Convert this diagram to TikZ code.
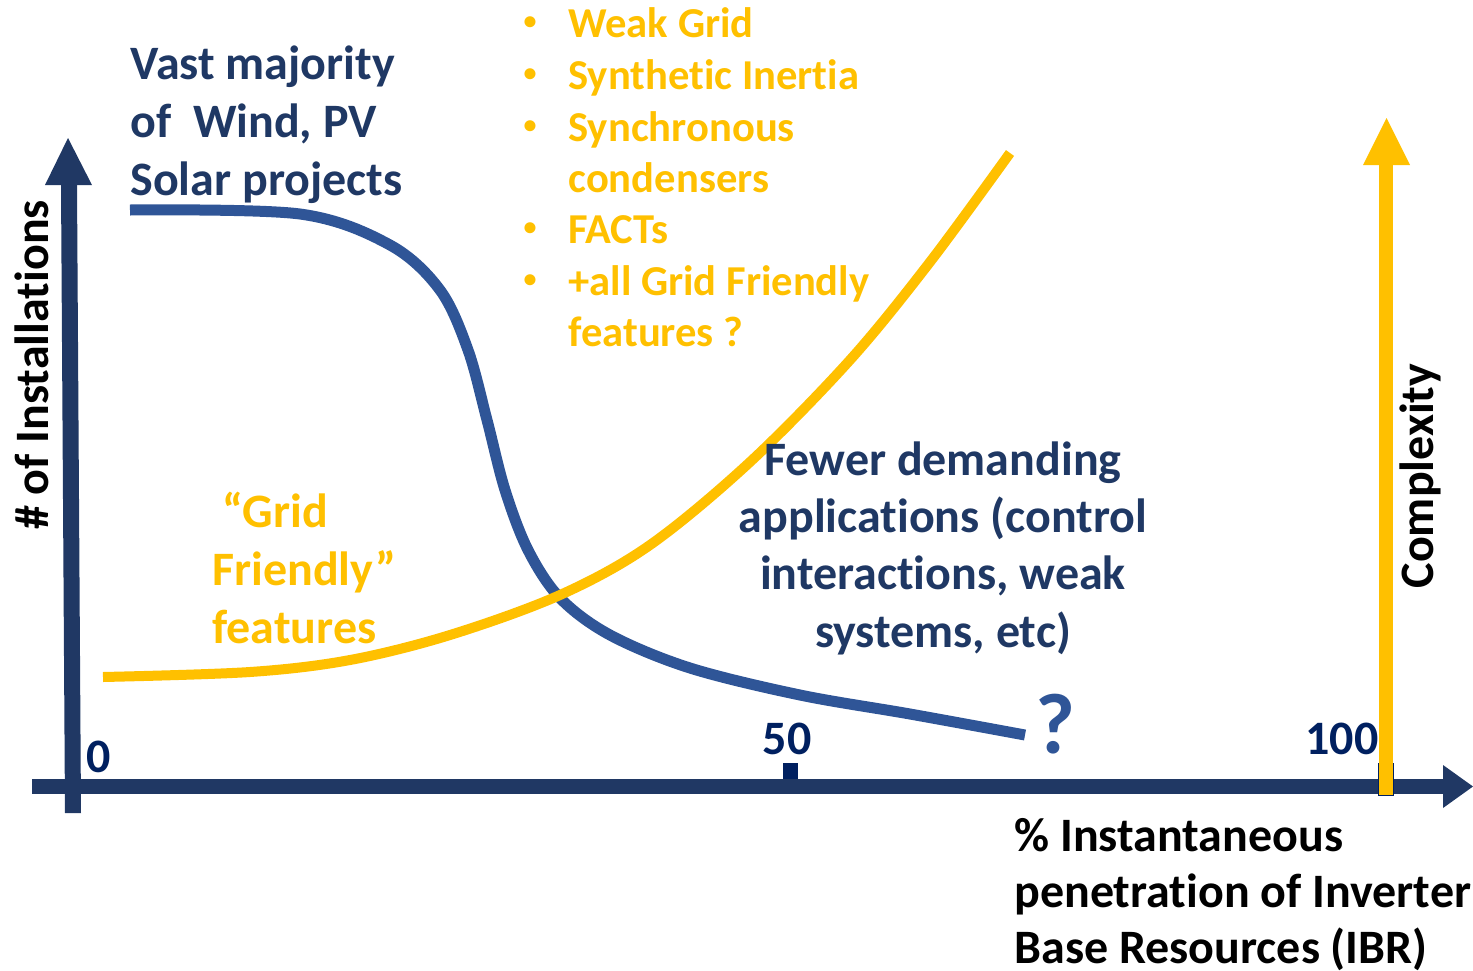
\documentclass[tikz,border=0pt]{standalone}
\usepackage{fontspec}
\setmainfont{Carlito}[Ligatures=NoCommon]
\definecolor{axisblue}{HTML}{203864}
\definecolor{curveblue}{HTML}{2F5597}
\definecolor{numblue}{HTML}{002060}
\definecolor{txtblue}{HTML}{1F3864}
\definecolor{gold}{HTML}{FFC000}
\tikzset{
  lbl/.style={inner sep=0pt, font=\bfseries\fontsize{24}{28}\selectfont},
  blt/.style={inner sep=0pt, font=\bfseries\fontsize{21.3}{25}\selectfont, text=gold},
  dotm/.style={inner sep=0pt, font=\bfseries\fontsize{13}{15}\selectfont, text=gold},
}
\begin{document}
\begin{tikzpicture}[x=0.5pt,y=-0.5pt]
\useasboundingbox (0,0) rectangle (1473,970);
% axes
\fill[axisblue] (65,813) -- (81,813) -- (77,185) -- (61,185) -- cycle;
\fill[axisblue] (45,185) -- (92,185) -- (68,138) -- cycle;
\fill[axisblue] (32,779) rectangle (1443,794);
\fill[axisblue] (1443,765) -- (1443,808) -- (1473,786.5) -- cycle;
\fill[numblue] (783,763) rectangle (798,779);
\fill[numblue] (1378,763) rectangle (1394,796);
% complexity arrow
\fill[gold] (1379,795) rectangle (1393,165);
\fill[gold] (1363,165) -- (1410,165) -- (1386.5,118) -- cycle;
% curves
\draw[curveblue, line width=5.5pt, line cap=butt] plot[smooth, tension=0.55] coordinates
 {(130,210) (300,214) (390,245) (440,290) (468,350) (487,420) (505,490) (528,550) (560,598) (610,635) (690,668) (800,695) (910,714) (1025,735)};
\draw[gold, line width=5pt] plot[smooth, tension=0.55] coordinates
 {(103,677) (250,672) (350,660) (450,635) (560,595) (650,545) (750,462) (850,360) (930,262) (1010,153)};
% texts
\node[lbl, text=txtblue, anchor=base west] (v1) at (130,79) {Vast majority};
\node[lbl, text=txtblue, anchor=base west] (v2) at (130,137) {of\ \ Wind, PV};
\node[lbl, text=txtblue, anchor=base west] (v3) at (130,195) {Solar projects};
\foreach \i/\y/\t/\b in {1/37/Weak Grid/1, 2/89/Synthetic Inertia/1, 3/141/Synchronous/1, 4/192/condensers/0, 5/243/FACTs/1, 6/295/+all Grid Friendly/1, 7/346/features ?/0}{
  \node[blt, anchor=base west] (b\i) at (568,\y) {\t};
  \ifnum\b=1 \node[dotm, anchor=center] (d\i) at (530,\y-14) {\textbullet}; \fi
}
\node[lbl, text=gold, anchor=base west] (g1) at (222,527) {“Grid};
\node[lbl, text=gold, anchor=base west] (g2) at (212,585) {Friendly”};
\node[lbl, text=gold, anchor=base west] (g3) at (212,643) {features};
\node[lbl, text=txtblue, anchor=base] (f1) at (943,475) {Fewer demanding};
\node[lbl, text=txtblue, anchor=base] (f2) at (943,532) {applications (control};
\node[lbl, text=txtblue, anchor=base] (f3) at (943,589) {interactions, weak};
\node[lbl, text=txtblue, anchor=base] (f4) at (943,647) {systems, etc)};
\node[lbl, text=black, anchor=base west] (p1) at (1014,851) {\% Instantaneous};
\node[lbl, text=black, anchor=base west] (p2) at (1014,907) {penetration of Inverter};
\node[lbl, text=black, anchor=base west] (p3) at (1014,963) {Base Resources (IBR)};
\node[lbl, text=black, anchor=base, rotate=90] (yl) at (48,365) {\# of Installations};
\node[lbl, text=black, anchor=base, rotate=90] (cl) at (1433,476) {Complexity};
\node[lbl, text=numblue, anchor=base] (n0) at (99,772) {0};
\node[lbl, text=numblue, anchor=base] (n50) at (787,754) {50};
\node[lbl, text=numblue, anchor=base] (n100) at (1342,754) {100};
\node[inner sep=0pt, font=\bfseries\fontsize{43}{50}\selectfont, text=curveblue, anchor=base] (q) at (1055,753) {?};
\end{tikzpicture}
\end{document}
